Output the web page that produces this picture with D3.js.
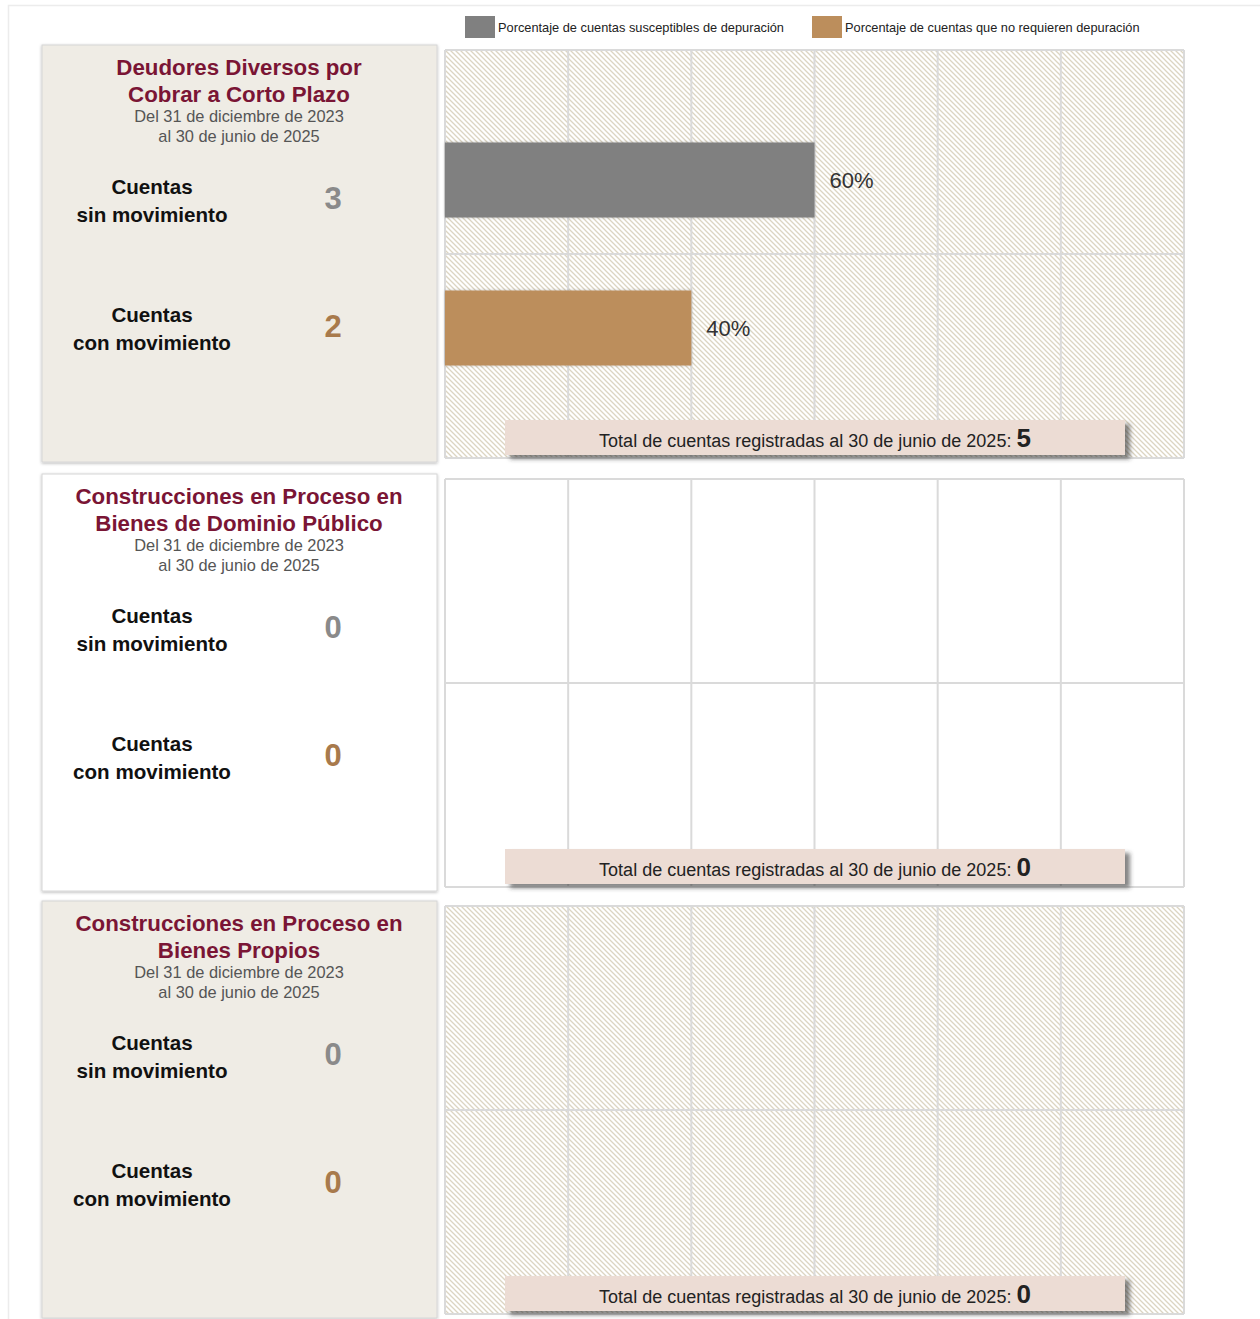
<!DOCTYPE html>
<html>
<head>
<meta charset="utf-8">
<script src="https://cdn.jsdelivr.net/npm/d3@7"></script>
<style>
  html, body { margin: 0; padding: 0; background: #fff; }
  svg { display: block; font-family: "Liberation Sans", Arial, Helvetica, sans-serif; }
</style>
</head>
<body>
<svg id="chart" width="1260" height="1319"></svg>
<script>
// ---------------- DATA ----------------
const titleLines = [
  ["Deudores Diversos por", "Cobrar a Corto Plazo"],
  ["Construcciones en Proceso en", "Bienes de Dominio Público"],
  ["Construcciones en Proceso en", "Bienes Propios"]
];
const periodLines = ["Del 31 de diciembre de 2023", "al 30 de junio de 2025"];
const rowLabels = [["Cuentas", "sin movimiento"], ["Cuentas", "con movimiento"]];
const categories = ["sin", "con"];
const cuentasSin = [3, 0, 0];
const cuentasCon = [2, 0, 0];
const pctSin = [60, 0, 0];
const pctCon = [40, 0, 0];
const totals = [5, 0, 0];
const totalLabel = "Total de cuentas registradas al 30 de junio de 2025: ";
const legendLabels = ["Porcentaje de cuentas susceptibles de depuración", "Porcentaje de cuentas que no requieren depuración"];
const gridTicks = [0, 20, 40, 60, 80, 100, 120];

// ---------------- STYLE ----------------
const colSin = "#808080", colCon = "#bc8e5c";
const valColSin = "#8a8a8a", valColCon = "#a87a4c";
const maroon = "#7a1535";
const panelOffsets = [0, 429, 856];

const svg = d3.select("#chart");
const defs = svg.append("defs");

const pat = defs.append("pattern").attr("id", "hatch")
  .attr("patternUnits", "userSpaceOnUse").attr("width", 5).attr("height", 5);
pat.append("rect").attr("width", 5).attr("height", 5).attr("fill", "#ffffff");
pat.append("path").attr("d", "M0,0 L5,5 M-1,4 L1,6 M4,-1 L6,1")
  .attr("stroke", "#dcd5c2").attr("stroke-width", 1.3);

const cardShadow = defs.append("filter").attr("id", "cardShadow")
  .attr("x", "-5%").attr("y", "-5%").attr("width", "110%").attr("height", "110%");
cardShadow.append("feDropShadow").attr("dx", 0).attr("dy", 1).attr("stdDeviation", 1.5)
  .attr("flood-color", "#000").attr("flood-opacity", 0.28);

const boxShadow = defs.append("filter").attr("id", "boxShadow")
  .attr("x", "-5%").attr("y", "-20%").attr("width", "115%").attr("height", "160%");
boxShadow.append("feDropShadow").attr("dx", 5).attr("dy", 4).attr("stdDeviation", 2)
  .attr("flood-color", "#333").attr("flood-opacity", 0.6);

const barShadow = defs.append("filter").attr("id", "barShadow")
  .attr("x", "-5%").attr("y", "-20%").attr("width", "110%").attr("height", "140%");
barShadow.append("feDropShadow").attr("dx", 0).attr("dy", 0).attr("stdDeviation", 1.5)
  .attr("flood-color", "#000").attr("flood-opacity", 0.25);

// outer container edge
svg.append("rect").attr("x", 8.5).attr("y", 5.5).attr("width", 1300).attr("height", 1400)
  .attr("fill", "#fff").attr("stroke", "#ececec").attr("stroke-width", 1.5);

// ---------------- LEGEND ----------------
const legendX = [465, 812];
legendLabels.forEach((lab, i) => {
  const g = svg.append("g");
  g.append("rect").attr("x", legendX[i]).attr("y", 16).attr("width", 30).attr("height", 22)
    .attr("fill", i === 0 ? colSin : colCon);
  g.append("text").attr("x", legendX[i] + 33).attr("y", 32)
    .attr("font-size", 12.8).attr("fill", "#222").text(lab);
});

// ---------------- SCALES ----------------
const x = d3.scaleLinear().domain([0, 120]).range([445, 1184]);
const barH = 75;

titleLines.forEach((lines, i) => {
  const oy = panelOffsets[i];
  const alt = i % 2 === 0;
  const g = svg.append("g");

  // ----- card -----
  g.append("rect").attr("x", 42).attr("y", 45 + oy).attr("width", 395).attr("height", 417)
    .attr("fill", alt ? "#efece5" : "#ffffff").attr("stroke", "#d6d6d6").attr("stroke-width", 1)
    .attr("filter", "url(#cardShadow)");

  lines.forEach((t, k) => {
    g.append("text").attr("x", 239).attr("y", 75 + oy + k * 27)
      .attr("text-anchor", "middle").attr("font-size", 22.3).attr("font-weight", "bold")
      .attr("fill", maroon).text(t);
  });
  periodLines.forEach((t, k) => {
    g.append("text").attr("x", 239).attr("y", 122 + oy + k * 19.5)
      .attr("text-anchor", "middle").attr("font-size", 16.4).attr("fill", "#555")
      .text(t);
  });

  const vals = [cuentasSin[i], cuentasCon[i]];
  const rowY = [187, 315];
  rowLabels.forEach((rl, r) => {
    rl.forEach((t, k) => {
      g.append("text").attr("x", 152).attr("y", rowY[r] + oy + 7 + k * 28)
        .attr("text-anchor", "middle").attr("font-size", 20.6).attr("font-weight", "bold")
        .attr("fill", "#111").text(t);
    });
    g.append("text").attr("x", 333).attr("y", rowY[r] + oy + 22)
      .attr("text-anchor", "middle").attr("font-size", 31).attr("font-weight", "bold")
      .attr("fill", r === 0 ? valColSin : valColCon).text(vals[r]);
  });

  // ----- chart area -----
  const top = 50 + oy, bottom = 458 + oy;
  g.append("rect").attr("x", x(0)).attr("y", top).attr("width", x(120) - x(0)).attr("height", bottom - top)
    .attr("fill", alt ? "url(#hatch)" : "#ffffff");

  const y = d3.scalePoint().domain(categories).range([180 + oy, 328 + oy]);

  // grid
  g.selectAll(null).data(gridTicks).enter().append("line")
    .attr("x1", d => x(d)).attr("x2", d => x(d)).attr("y1", top).attr("y2", bottom)
    .attr("stroke", "#dadada").attr("stroke-width", 2);
  [top, (top + bottom) / 2, bottom].forEach(yy => {
    g.append("line").attr("x1", x(0)).attr("x2", x(120)).attr("y1", yy).attr("y2", yy)
      .attr("stroke", "#dadada").attr("stroke-width", 2);
  });

  // bars
  const barData = [
    { cat: "sin", v: pctSin[i], c: colSin },
    { cat: "con", v: pctCon[i], c: colCon }
  ].filter(d => d.v > 0);

  g.selectAll(null).data(barData).enter().append("rect")
    .attr("x", x(0)).attr("y", d => y(d.cat) - barH / 2)
    .attr("width", d => x(d.v) - x(0)).attr("height", barH)
    .attr("fill", d => d.c).attr("filter", "url(#barShadow)");
  g.selectAll(null).data(barData).enter().append("text")
    .attr("x", d => x(d.v) + 15).attr("y", d => y(d.cat) + 8)
    .attr("font-size", 22).attr("fill", "#333").text(d => d.v + "%");

  // total box
  g.append("rect").attr("x", 505).attr("y", 420 + oy).attr("width", 620).attr("height", 35)
    .attr("fill", "#ecdcd4").attr("filter", "url(#boxShadow)");
  const tt = g.append("text").attr("x", 815).attr("y", 447 + oy)
    .attr("text-anchor", "middle").attr("fill", "#222");
  tt.append("tspan").attr("font-size", 18).text(totalLabel);
  tt.append("tspan").attr("font-size", 26).attr("font-weight", "bold").text(totals[i]);
});
</script>
</body>
</html>
